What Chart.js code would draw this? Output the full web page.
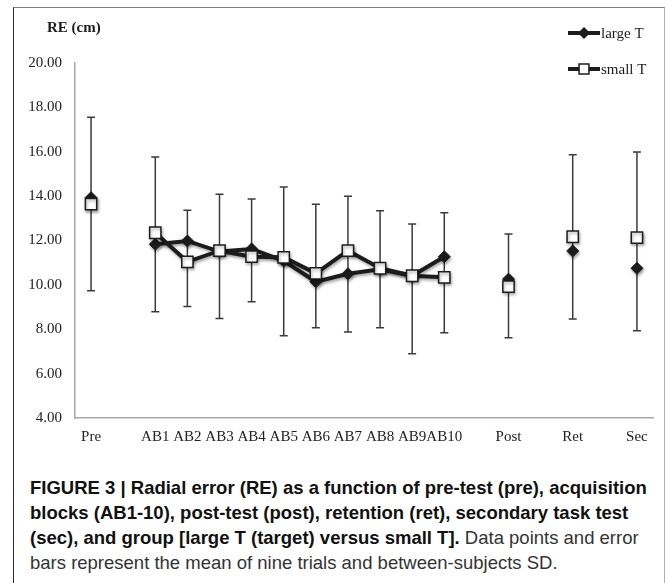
<!DOCTYPE html>
<html>
<head>
<meta charset="utf-8">
<script src="https://cdn.jsdelivr.net/npm/chart.js@4.4.1/dist/chart.umd.min.js"></script>
<style>
    html, body { margin: 0; padding: 0; background: #fff; }
    #page { position: relative; width: 666px; height: 583px; overflow: hidden; }
    #frame { position: absolute; left: 13px; top: 7px; width: 650px; height: 590px;
             border-left: 1.5px solid #2a2a2a; border-top: 1.5px solid #808080; border-right: 1px solid #b0b0b0; }
    #chart-box { position: absolute; left: 13px; top: 7px; width: 652px; height: 465px; }
    #caption { position: absolute; left: 30px; top: 475px; font-family: "Liberation Sans", Arial, sans-serif;
               font-size: 18.5px; line-height: 25px; color: #1a1a1a; white-space: nowrap; }
    #caption b { font-weight: bold; color: #111; }
    #caption .reg { color: #333; }
</style>
</head>
<body>
<div id="page">
    <div id="frame"></div>
    <div id="chart-box"><canvas id="re-chart"></canvas></div>
    <div id="caption">
        <div><b>FIGURE 3 | Radial error (RE) as a function of pre-test (pre), acquisition</b></div>
        <div><b>blocks (AB1-10), post-test (post), retention (ret), secondary task test</b></div>
        <div><b>(sec), and group [large T (target) versus small T].</b> <span class="reg">Data points and error</span></div>
        <div class="reg">bars represent the mean of nine trials and between-subjects SD.</div>
    </div>
</div>
<script>
(function() {
    'use strict';

    // -- Data --
    var categories = ['Pre', '', 'AB1', 'AB2', 'AB3', 'AB4', 'AB5', 'AB6', 'AB7', 'AB8', 'AB9', 'AB10', '', 'Post', '', 'Ret', '', 'Sec'];
    var largeT = [13.93, null, 11.83, 11.98, 11.50, 11.62, 11.08, 10.14, 10.50, 10.70, 10.41, 11.27, null, 10.26, null, 11.53, null, 10.75];
    var smallT = [13.64, null, 12.35, 11.04, 11.54, 11.27, 11.24, 10.52, 11.54, 10.75, 10.41, 10.34, null, 9.92, null, 12.17, null, 12.13];
    var errHigh = [17.55, null, 15.76, 13.36, 14.09, 13.87, 14.41, 13.63, 14.00, 13.34, 12.74, 13.25, null, 12.29, null, 15.87, null, 15.99];
    var errLow = [9.74, null, 8.79, 9.02, 8.49, 9.24, 7.71, 8.07, 7.88, 8.07, 6.90, 7.84, null, 7.62, null, 8.46, null, 7.93];
    var yTicks = [4, 6, 8, 10, 12, 14, 16, 18, 20];

    var SERIF = '"Liberation Serif", "DejaVu Serif", serif';
    var INK = '#1c1c1c';

    // error bars, drawn under the lines and markers
    var errorBars = {
        id: 'errorBars',
        beforeDatasetsDraw: function(chart) {
            var ctx = chart.ctx, x = chart.scales.x, y = chart.scales.y;
            ctx.save();
            ctx.strokeStyle = '#3a3a3a';
            ctx.lineWidth = 1.5;
            for (var i = 0; i < categories.length; i++) {
                if (errHigh[i] == null) continue;
                var px = x.getPixelForValue(i);
                var top = y.getPixelForValue(errHigh[i]);
                var bot = y.getPixelForValue(errLow[i]);
                ctx.beginPath();
                ctx.moveTo(px, top); ctx.lineTo(px, bot);
                ctx.moveTo(px - 4, top); ctx.lineTo(px + 4, top);
                ctx.moveTo(px - 4, bot); ctx.lineTo(px + 4, bot);
                ctx.stroke();
            }
            ctx.restore();
            // soft drop shadow under the series, like the original
            ctx.save();
            ctx.shadowColor = 'rgba(0,0,0,0.35)';
            ctx.shadowBlur = 3;
            ctx.shadowOffsetX = 1;
            ctx.shadowOffsetY = 2;
        },
        afterDatasetsDraw: function(chart) {
            chart.ctx.restore();
        }
    };

    // axis title + legend, placed where the original has them
    var decorations = {
        id: 'decorations',
        afterDraw: function(chart) {
            var ctx = chart.ctx;
            ctx.save();
            ctx.fillStyle = INK;
            ctx.textBaseline = 'middle';
            ctx.font = 'bold 15px ' + SERIF;
            ctx.fillText('RE (cm)', 34, 21);

            var items = chart.data.datasets;
            var rows = [26, 62];
            for (var i = 0; i < items.length; i++) {
                var ds = items[i], ly = rows[i];
                ctx.strokeStyle = INK;
                ctx.lineWidth = 4;
                ctx.beginPath();
                ctx.moveTo(555, ly); ctx.lineTo(587, ly);
                ctx.stroke();
                ctx.fillStyle = ds.pointBackgroundColor;
                ctx.strokeStyle = INK;
                ctx.lineWidth = 1.5;
                Chart.helpers.drawPoint(ctx, { pointStyle: ds.pointStyle, radius: ds.legendRadius, borderWidth: 1.5 }, 571, ly);
                ctx.fillStyle = INK;
                ctx.font = '15px ' + SERIF;
                ctx.fillText(ds.label, 588, ly + 1);
            }
            ctx.restore();
        }
    };

    var chart = new Chart(document.getElementById('re-chart'), {
        type: 'line',
        data: {
            labels: categories,
            datasets: [
                {
                    label: 'large T', data: largeT, order: 1,
                    borderColor: INK, borderWidth: 4, spanGaps: false, tension: 0,
                    pointStyle: 'rectRot', pointRadius: 6, pointHoverRadius: 6, legendRadius: 5,
                    pointBackgroundColor: INK, pointBorderColor: INK, pointBorderWidth: 1
                },
                {
                    label: 'small T', data: smallT, order: 0,
                    borderColor: INK, borderWidth: 4, spanGaps: false, tension: 0,
                    pointStyle: 'rect', pointRadius: 8, pointHoverRadius: 8, legendRadius: 7,
                    pointBackgroundColor: '#ffffff', pointBorderColor: INK, pointBorderWidth: 1.5
                }
            ]
        },
        options: {
            responsive: true, maintainAspectRatio: false, animation: false,
            layout: { padding: { left: 0, top: 56, right: 12, bottom: 0 } },
            plugins: { legend: { display: false }, tooltip: { enabled: false } },
            scales: {
                x: {
                    offset: true,
                    grid: { display: false, drawTicks: false },
                    border: { display: true, color: '#a8a8a8', width: 1.5 },
                    ticks: { autoSkip: false, maxRotation: 0, padding: 10, color: '#222', font: { family: SERIF, size: 15 } },
                    afterFit: function(s) { s.height = 54; }
                },
                y: {
                    min: 4, max: 20,
                    grid: { display: false, drawTicks: false },
                    border: { display: true, color: '#a8a8a8', width: 1.5 },
                    afterBuildTicks: function(s) { s.ticks = yTicks.map(function(v) { return { value: v }; }); },
                    ticks: {
                        padding: 13, color: '#222', font: { family: SERIF, size: 15 },
                        callback: function(v) { return Number(v).toFixed(2); }
                    },
                    afterFit: function(s) { s.width = 62; }
                }
            }
        },
        plugins: [errorBars, decorations]
    });
})();
</script>
</body>
</html>
